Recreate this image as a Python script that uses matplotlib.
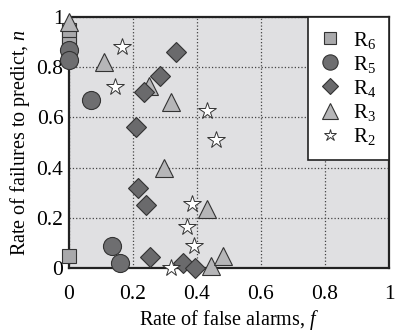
import matplotlib
matplotlib.use('Agg')
import matplotlib.pyplot as plt

plt.rcParams['font.family'] = ['Liberation Serif', 'DejaVu Serif']
plt.rcParams['mathtext.fontset'] = 'custom'
plt.rcParams['mathtext.rm'] = 'Liberation Serif'
plt.rcParams['mathtext.it'] = 'Liberation Serif:italic'

# data: (f, n) per forecast rule
r6_f = [0.0, 0.0, 0.0, 0.0]
r6_n = [0.05, 0.89, 0.92, 0.95]

r5_f = [0.0, 0.0, 0.07, 0.135, 0.16]
r5_n = [0.87, 0.83, 0.67, 0.09, 0.02]

r4_f = [0.335, 0.285, 0.235, 0.21, 0.216, 0.24, 0.253, 0.355, 0.395]
r4_n = [0.86, 0.765, 0.70, 0.56, 0.32, 0.25, 0.045, 0.02, 0.0]

r3_f = [0.0, 0.11, 0.25, 0.32, 0.297, 0.43, 0.445, 0.48]
r3_n = [0.98, 0.82, 0.725, 0.66, 0.40, 0.235, 0.01, 0.05]

r2_f = [0.165, 0.145, 0.43, 0.46, 0.385, 0.37, 0.39, 0.32]
r2_n = [0.88, 0.72, 0.625, 0.51, 0.255, 0.165, 0.09, 0.0]

fig = plt.figure(figsize=(4.0, 3.31), dpi=100)
ax = fig.add_axes([0.1725, 0.19, 0.8, 0.7586])
ax.set_facecolor('#e0e0e2')

edge = '#333333'
ax.plot(r6_f, r6_n, 's', ms=10, mfc='#a9a9ab', mec=edge, mew=0.8, clip_on=False, zorder=3)
ax.plot(r3_f, r3_n, '^', ms=13, mfc='#b6b6b8', mec=edge, mew=0.8, clip_on=False, zorder=3)
ax.plot(r5_f, r5_n, 'o', ms=13, mfc='#6e6e70', mec=edge, mew=0.8, clip_on=False, zorder=4)
ax.plot(r4_f, r4_n, 'D', ms=10, mfc='#6a6a6c', mec=edge, mew=0.8, clip_on=False, zorder=4)
ax.plot(r2_f, r2_n, '*', ms=13, mfc='white', mec=edge, mew=0.7, clip_on=False, zorder=5)

ax.set_xlim(0, 1)
ax.set_ylim(0, 1)
ticks = [0, 0.2, 0.4, 0.6, 0.8, 1]
tick_labels = ['0', '0.2', '0.4', '0.6', '0.8', '1']
ax.set_xticks(ticks)
ax.set_xticklabels(tick_labels)
ax.set_yticks(ticks)
ax.set_yticklabels(tick_labels)
ax.tick_params(length=0, labelsize=15.5)
ax.tick_params(axis='x', pad=12)
ax.tick_params(axis='y', pad=4)
ax.grid(True, linestyle=':', color='#444444', linewidth=0.9)
ax.set_axisbelow(True)
for s in ax.spines.values():
    s.set_linewidth(1.6)
    s.set_color('#222222')

ax.set_xlabel('Rate of false alarms, $\\mathit{f}$', fontsize=14.5, labelpad=3)
ax.set_ylabel('Rate of failures to predict, $\\mathit{n}$', fontsize=14.5, labelpad=3)

# legend proxies, smaller markers than in the plot
h6, = ax.plot([], [], 's', ms=8, mfc='#a9a9ab', mec=edge, mew=0.8)
h5, = ax.plot([], [], 'o', ms=11, mfc='#6e6e70', mec=edge, mew=0.8)
h4, = ax.plot([], [], 'D', ms=8, mfc='#6a6a6c', mec=edge, mew=0.8)
h3, = ax.plot([], [], '^', ms=11, mfc='#b6b6b8', mec=edge, mew=0.8)
h2, = ax.plot([], [], '*', ms=9, mfc='white', mec=edge, mew=0.7)
leg = ax.legend([h6, h5, h4, h3, h2],
                ['R$_6$', 'R$_5$', 'R$_4$', 'R$_3$', 'R$_2$'],
                loc='upper right', borderaxespad=0, fontsize=15,
                frameon=True, fancybox=False, framealpha=1,
                edgecolor='#222222', handlelength=1.0, handletextpad=0.6,
                labelspacing=0.15, borderpad=0.6)
leg.get_frame().set_linewidth(1.2)
leg.set_zorder(10)

fig.savefig('out.png', dpi=100)
